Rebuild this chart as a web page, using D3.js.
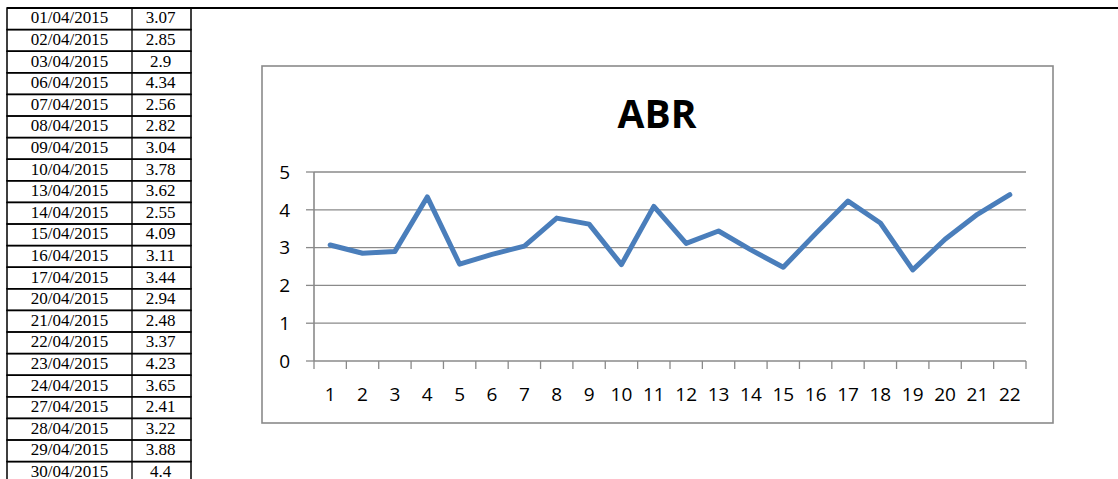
<!DOCTYPE html>
<html>
<head>
<meta charset="utf-8">
<script src="https://cdn.jsdelivr.net/npm/d3@7"></script>
<style>
  body { margin: 0; background: #fff; }
  svg { display: block; }
</style>
</head>
<body>
<svg id="chart" width="1118" height="479"></svg>
<script>
// table data
var dates = ["01/04/2015", "02/04/2015", "03/04/2015", "06/04/2015", "07/04/2015",
  "08/04/2015", "09/04/2015", "10/04/2015", "13/04/2015", "14/04/2015", "15/04/2015",
  "16/04/2015", "17/04/2015", "20/04/2015", "21/04/2015", "22/04/2015", "23/04/2015",
  "24/04/2015", "27/04/2015", "28/04/2015", "29/04/2015", "30/04/2015"];
var valueLabels = ["3.07", "2.85", "2.9", "4.34", "2.56", "2.82", "3.04", "3.78", "3.62",
  "2.55", "4.09", "3.11", "3.44", "2.94", "2.48", "3.37", "4.23", "3.65", "2.41", "3.22",
  "3.88", "4.4"];
var values = [3.07, 2.85, 2.9, 4.34, 2.56, 2.82, 3.04, 3.78, 3.62, 2.55, 4.09, 3.11,
  3.44, 2.94, 2.48, 3.37, 4.23, 3.65, 2.41, 3.22, 3.88, 4.4];
var categories = ["1", "2", "3", "4", "5", "6", "7", "8", "9", "10", "11", "12", "13",
  "14", "15", "16", "17", "18", "19", "20", "21", "22"];
var yTicks = [0, 1, 2, 3, 4, 5];
var title = "ABR";

var svg = d3.select("#chart");

// ---- the table on the left
var rowH = 21.6, tableTop = 8;
var colX = [7, 132, 191];
var table = svg.append("g");

// top rule running across the page
table.append("line")
  .attr("x1", colX[0]).attr("x2", 1118)
  .attr("y1", tableTop).attr("y2", tableTop)
  .attr("stroke", "#000").attr("stroke-width", 2);

var rows = table.selectAll("g.row")
  .data(dates)
  .enter()
  .append("g")
  .attr("class", "row")
  .attr("transform", function (d, i) { return "translate(0," + (tableTop + i * rowH) + ")"; });

rows.append("rect")
  .attr("x", colX[0]).attr("y", 0)
  .attr("width", colX[2] - colX[0]).attr("height", rowH)
  .attr("fill", "none").attr("stroke", "#000").attr("stroke-width", 1.5);

rows.append("line")
  .attr("x1", colX[1]).attr("x2", colX[1])
  .attr("y1", 0).attr("y2", rowH)
  .attr("stroke", "#000").attr("stroke-width", 1.3);

rows.append("text")
  .attr("x", (colX[0] + colX[1]) / 2)
  .attr("y", 15.4)
  .attr("text-anchor", "middle")
  .style("font-family", "'Liberation Serif', 'Times New Roman', serif")
  .style("font-size", "17px")
  .text(function (d) { return d; });

rows.append("text")
  .attr("x", (colX[1] + colX[2]) / 2 - 1)
  .attr("y", 15.4)
  .attr("text-anchor", "middle")
  .style("font-family", "'Liberation Serif', 'Times New Roman', serif")
  .style("font-size", "17px")
  .text(function (d, i) { return valueLabels[i]; });

// ---- chart frame
svg.append("rect")
  .attr("x", 262).attr("y", 66)
  .attr("width", 791).attr("height", 357)
  .attr("fill", "#fff")
  .attr("stroke", "#8a8a8a").attr("stroke-width", 1.6);

svg.append("text")
  .attr("x", 657).attr("y", 128)
  .attr("text-anchor", "middle")
  .style("font-family", "'Open Sans', 'Noto Sans', sans-serif")
  .style("font-weight", "bold")
  .style("font-size", "39px")
  .text(title);

// scales
var x = d3.scaleBand().domain(categories).range([314, 1026]);
var y = d3.scaleLinear().domain([0, 5]).range([361, 172]);

var axisColor = "#8a8a8a";
var labelFont = "'Open Sans', 'Noto Sans', sans-serif";

// gridlines
svg.append("g")
  .selectAll("line")
  .data(yTicks.slice(1))
  .enter()
  .append("line")
  .attr("x1", 314).attr("x2", 1026)
  .attr("y1", function (d) { return y(d); })
  .attr("y2", function (d) { return y(d); })
  .attr("stroke", axisColor).attr("stroke-width", 1.3);

// y axis
var yAxis = svg.append("g");
yAxis.append("line")
  .attr("x1", 314).attr("x2", 314)
  .attr("y1", y(5)).attr("y2", y(0))
  .attr("stroke", axisColor).attr("stroke-width", 1.6);
yAxis.selectAll("line.tick")
  .data(yTicks)
  .enter()
  .append("line")
  .attr("class", "tick")
  .attr("x1", 306).attr("x2", 314)
  .attr("y1", function (d) { return y(d); })
  .attr("y2", function (d) { return y(d); })
  .attr("stroke", axisColor).attr("stroke-width", 1.3);
yAxis.selectAll("text")
  .data(yTicks)
  .enter()
  .append("text")
  .attr("x", 290)
  .attr("y", function (d) { return y(d); })
  .attr("dy", "0.36em")
  .attr("text-anchor", "end")
  .style("font-family", labelFont)
  .style("font-size", "19px")
  .text(function (d) { return d; });

// x axis
var xAxis = svg.append("g");
xAxis.append("line")
  .attr("x1", 314).attr("x2", 1026)
  .attr("y1", y(0)).attr("y2", y(0))
  .attr("stroke", axisColor).attr("stroke-width", 1.6);
var bounds = categories.map(function (c) { return x(c); }).concat([x.range()[1]]);
xAxis.selectAll("line.tick")
  .data(bounds)
  .enter()
  .append("line")
  .attr("class", "tick")
  .attr("x1", function (d) { return d; })
  .attr("x2", function (d) { return d; })
  .attr("y1", y(0)).attr("y2", y(0) + 8)
  .attr("stroke", axisColor).attr("stroke-width", 1.3);
xAxis.selectAll("text")
  .data(categories)
  .enter()
  .append("text")
  .attr("x", function (d) { return x(d) + x.bandwidth() / 2; })
  .attr("y", 401)
  .attr("text-anchor", "middle")
  .style("font-family", labelFont)
  .style("font-size", "19px")
  .text(function (d) { return d; });

// the series line
var line = d3.line()
  .x(function (d, i) { return x(categories[i]) + x.bandwidth() / 2; })
  .y(function (d) { return y(d); });

svg.append("path")
  .datum(values)
  .attr("d", line)
  .attr("fill", "none")
  .attr("stroke", "#4a7ebb")
  .attr("stroke-width", 5)
  .attr("stroke-linejoin", "round")
  .attr("stroke-linecap", "round");
</script>
</body>
</html>
